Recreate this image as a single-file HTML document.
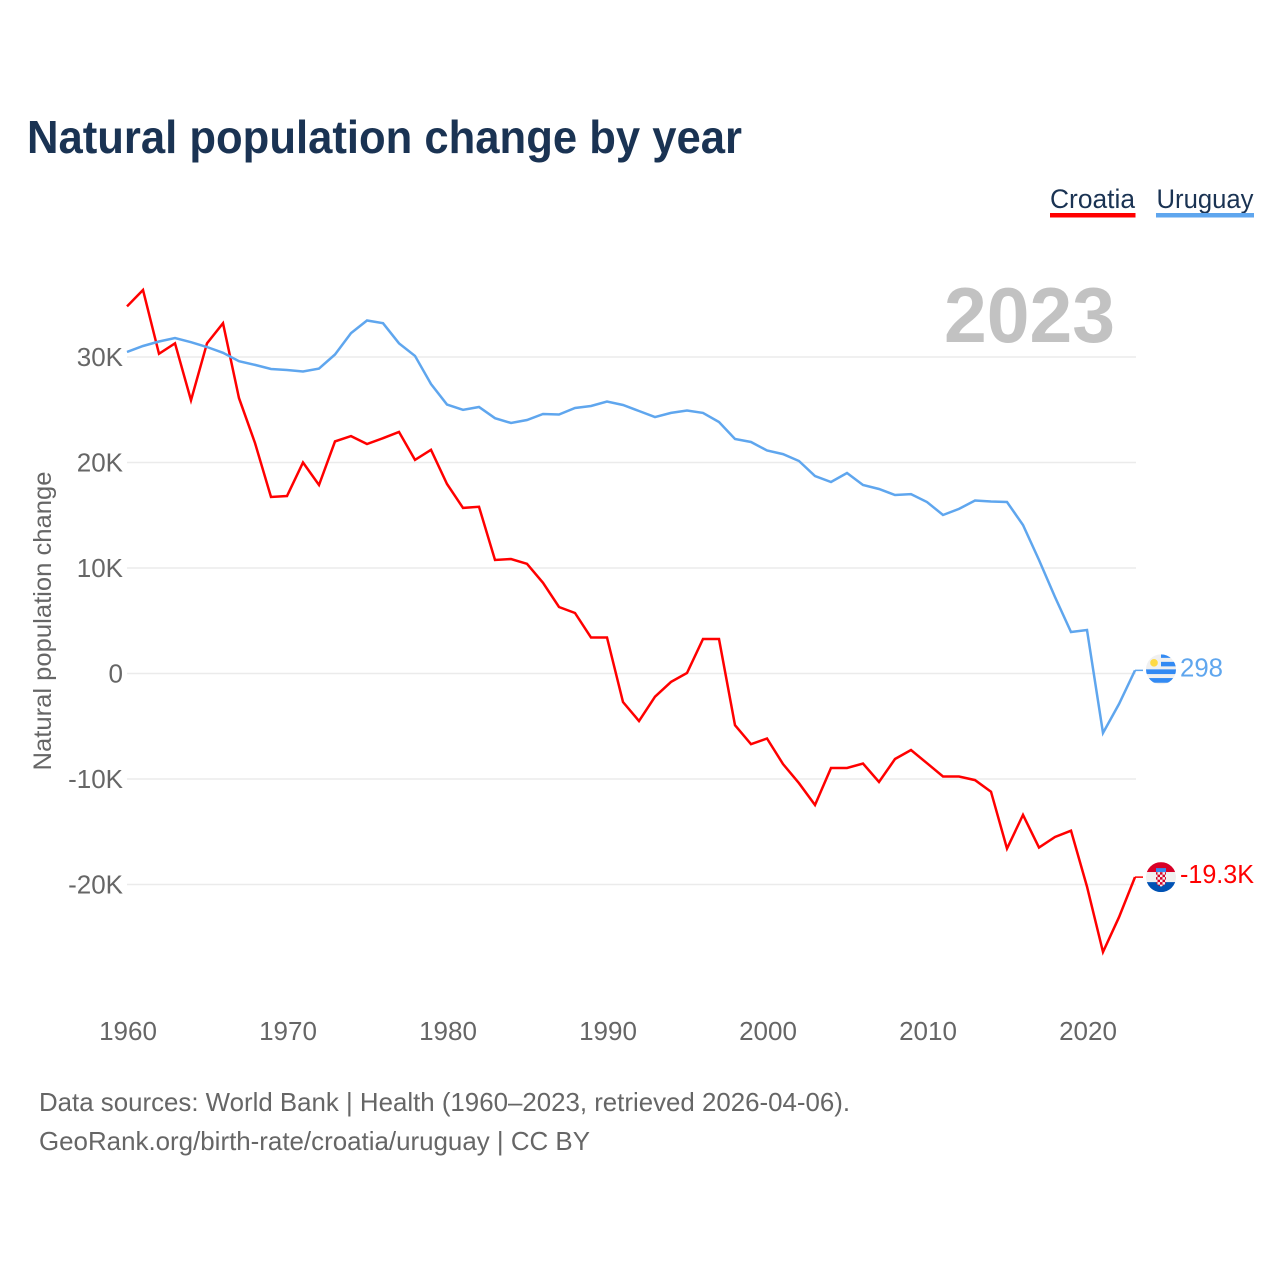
<!DOCTYPE html>
<html lang="en">
<head>
<meta charset="utf-8">
<title>Natural population change by year</title>
<style>
html,body{margin:0;padding:0;background:#fff;width:1280px;height:1280px;overflow:hidden}
svg{display:block}
text{font-family:"Liberation Sans",sans-serif}
</style>
</head>
<body>
<svg id="chart" xmlns="http://www.w3.org/2000/svg" width="1280" height="1280" viewBox="0 0 1280 1280">
  <defs>
    <clipPath id="flag-clip"><circle cx="0" cy="0" r="15"/></clipPath>
    <pattern id="checker" width="5" height="5" patternUnits="userSpaceOnUse" x="-6" y="-5">
      <rect width="5" height="5" fill="#f0f0f0"/>
      <rect width="2.5" height="2.5" fill="#d80027"/>
      <rect x="2.5" y="2.5" width="2.5" height="2.5" fill="#d80027"/>
    </pattern>
  </defs>
  <rect width="1280" height="1280" fill="#fff"/>
  <text x="27" y="153" font-size="46" font-weight="700" fill="#1a3353" textLength="715" lengthAdjust="spacingAndGlyphs">Natural population change by year</text>

  <g>
    <g>
      <text x="1050" y="208" font-size="27" fill="#1a3353" textLength="85" lengthAdjust="spacingAndGlyphs">Croatia</text>
      <rect x="1050" y="213" width="85.500" height="4.500" fill="#ff0000"/>
    </g>
    <g>
      <text x="1156.500" y="208" font-size="27" fill="#1a3353" textLength="97" lengthAdjust="spacingAndGlyphs">Uruguay</text>
      <rect x="1156" y="213" width="98" height="4.500" fill="#5fa6ee"/>
    </g>
  </g>

  <text transform="translate(51,621) rotate(-90)" text-anchor="middle" font-size="25" fill="#666" textLength="299" lengthAdjust="spacingAndGlyphs">Natural population change</text>

  <g id="grid"></g>
  <g id="y-ticks"></g>
  <g id="x-ticks"></g>

  <text id="year-label" x="1115" y="342" text-anchor="end" font-size="78" font-weight="700" fill="#c2c2c2" textLength="171" lengthAdjust="spacingAndGlyphs"></text>

  <g id="series"></g>

  <g id="flag-uruguay">
    <g clip-path="url(#flag-clip)">
      <rect x="-15" y="-15" width="30" height="30" fill="#f0f0f0"/>
      <rect x="0" y="-15" width="15" height="3.500" fill="#338af3"/>
      <rect x="0" y="-7.500" width="15" height="4.500" fill="#338af3"/>
      <rect x="-15" y="0" width="30" height="4.700" fill="#338af3"/>
      <rect x="-15" y="8.700" width="30" height="4.700" fill="#338af3"/>
      <circle cx="-7" cy="-6.500" r="3.800" fill="#ffda44"/>
    </g>
  </g>
  <g id="flag-croatia">
    <g clip-path="url(#flag-clip)">
      <rect x="-15" y="-15" width="30" height="10" fill="#d80027"/>
      <rect x="-15" y="-5" width="30" height="10" fill="#f0f0f0"/>
      <rect x="-15" y="5" width="30" height="10" fill="#0052b4"/>
      <rect x="-5" y="-9" width="10" height="4" fill="#338af3"/>
      <path d="M-5 -5H5V4Q5 8 0 9.500Q-5 8 -5 4Z" fill="url(#checker)"/>
    </g>
  </g>
  <g id="end-labels"></g>

  <g>
    <text x="39" y="1111" font-size="26" fill="#666" textLength="811" lengthAdjust="spacingAndGlyphs">Data sources: World Bank | Health (1960–2023, retrieved 2026-04-06).</text>
    <text x="39" y="1150" font-size="26" fill="#666" textLength="551" lengthAdjust="spacingAndGlyphs">GeoRank.org/birth-rate/croatia/uruguay | CC BY</text>
  </g>
</svg>
<script>
const startYear = 1960;
const yTickValues = [30000, 20000, 10000, 0, -10000, -20000];
const yTickLabels = ["30K", "20K", "10K", "0", "-10K", "-20K"];
const xTickValues = [1960, 1970, 1980, 1990, 2000, 2010, 2020];
const xTickLabels = ["1960", "1970", "1980", "1990", "2000", "2010", "2020"];
const croatiaValues = [34800,36350,30300,31300,25900,31300,33200,26100,21850,16730,16820,20000,17870,22000,22500,21750,22300,22900,20250,21200,17960,15700,15800,10760,10850,10400,8600,6300,5730,3410,3410,-2700,-4500,-2200,-800,50,3270,3270,-4900,-6700,-6160,-8580,-10400,-12460,-8960,-8960,-8530,-10280,-8100,-7250,-8500,-9760,-9760,-10100,-11200,-16600,-13400,-16500,-15500,-14900,-20200,-26400,-23100,-19300];
const uruguayValues = [30470,31040,31470,31800,31400,30950,30400,29600,29250,28860,28770,28630,28900,30240,32270,33460,33200,31300,30100,27440,25500,25000,25260,24200,23740,24030,24600,24550,25170,25360,25780,25450,24880,24300,24700,24930,24700,23840,22230,21940,21140,20800,20140,18720,18150,19000,17870,17490,16920,17000,16260,15020,15600,16400,16300,16260,14080,10760,7250,3930,4120,-5640,-2890,298];
const croatiaLabel = "-19.3K";
const uruguayLabel = "298";
const currentYear = "2023";

const NS = "http://www.w3.org/2000/svg";
const xScale = function (year) { return 127 + (year - 1960) * 16; };
const yScale = function (v) { return 673.5 - v * 0.01055; };
function make(tag, parent, attrs, text) {
  const el = document.createElementNS(NS, tag);
  Object.keys(attrs).forEach(function (k) { el.setAttribute(k, attrs[k]); });
  if (text !== undefined) el.textContent = text;
  parent.appendChild(el);
  return el;
}

const gridG = document.getElementById("grid");
const yG = document.getElementById("y-ticks");
yTickValues.forEach(function (v, i) {
  const line = make("line", gridG, {x1: 127, x2: 1136, y1: yScale(v), y2: yScale(v), stroke: "#ebebeb", "stroke-width": 1.5});
  
  
  const t = make("text", yG, {x: 123, y: yScale(v) + 9, "text-anchor": "end", "font-size": 26, fill: "#666"}, yTickLabels[i]);
  
  
});

const xG = document.getElementById("x-ticks");
xTickValues.forEach(function (yr, i) {
  const t = make("text", xG, {x: xScale(yr) + 1, y: 1040, "text-anchor": "middle", "font-size": 26, fill: "#666"}, xTickLabels[i]);
  
  
});

document.getElementById("year-label").textContent = currentYear;

function pointsFor(values) {
  return values.map(function (v, i) { return xScale(startYear + i).toFixed(1) + "," + yScale(v).toFixed(1); }).join(" ");
}
const seriesG = document.getElementById("series");
const croatiaLine = make("polyline", seriesG, {points: pointsFor(croatiaValues), fill: "none", stroke: "#ff0000", "stroke-width": 2.5, "stroke-linejoin": "miter"});


const uruguayLine = make("polyline", seriesG, {points: pointsFor(uruguayValues), fill: "none", stroke: "#5fa6ee", "stroke-width": 2.5, "stroke-linejoin": "miter"});



const tailStartX = xScale(startYear + uruguayValues.length - 1);
const croatiaEndY = yScale(croatiaValues[croatiaValues.length - 1]);
const uruguayEndY = yScale(uruguayValues[uruguayValues.length - 1]);
const croatiaTail = make("line", seriesG, {x1: tailStartX, x2: tailStartX + 8, y1: croatiaEndY, y2: croatiaEndY, stroke: "#ff0000", "stroke-width": 1.5});


const uruguayTail = make("line", seriesG, {x1: tailStartX, x2: tailStartX + 8, y1: uruguayEndY, y2: uruguayEndY, stroke: "#5fa6ee", "stroke-width": 1.5});



const flagX = xScale(2023) + 26;
document.getElementById("flag-croatia").setAttribute("transform", "translate(" + flagX + "," + croatiaEndY + ")");
document.getElementById("flag-uruguay").setAttribute("transform", "translate(" + flagX + "," + (uruguayEndY - 1) + ")");

const endG = document.getElementById("end-labels");
const croatiaEnd = make("text", endG, {x: 1180, y: croatiaEndY + 6, "font-size": 26, fill: "#ff0000", textLength: 74, lengthAdjust: "spacingAndGlyphs"}, croatiaLabel);


const uruguayEnd = make("text", endG, {x: 1180, y: uruguayEndY + 6, "font-size": 26, fill: "#5fa6ee", textLength: 43, lengthAdjust: "spacingAndGlyphs"}, uruguayLabel);


</script>
</body>
</html>
